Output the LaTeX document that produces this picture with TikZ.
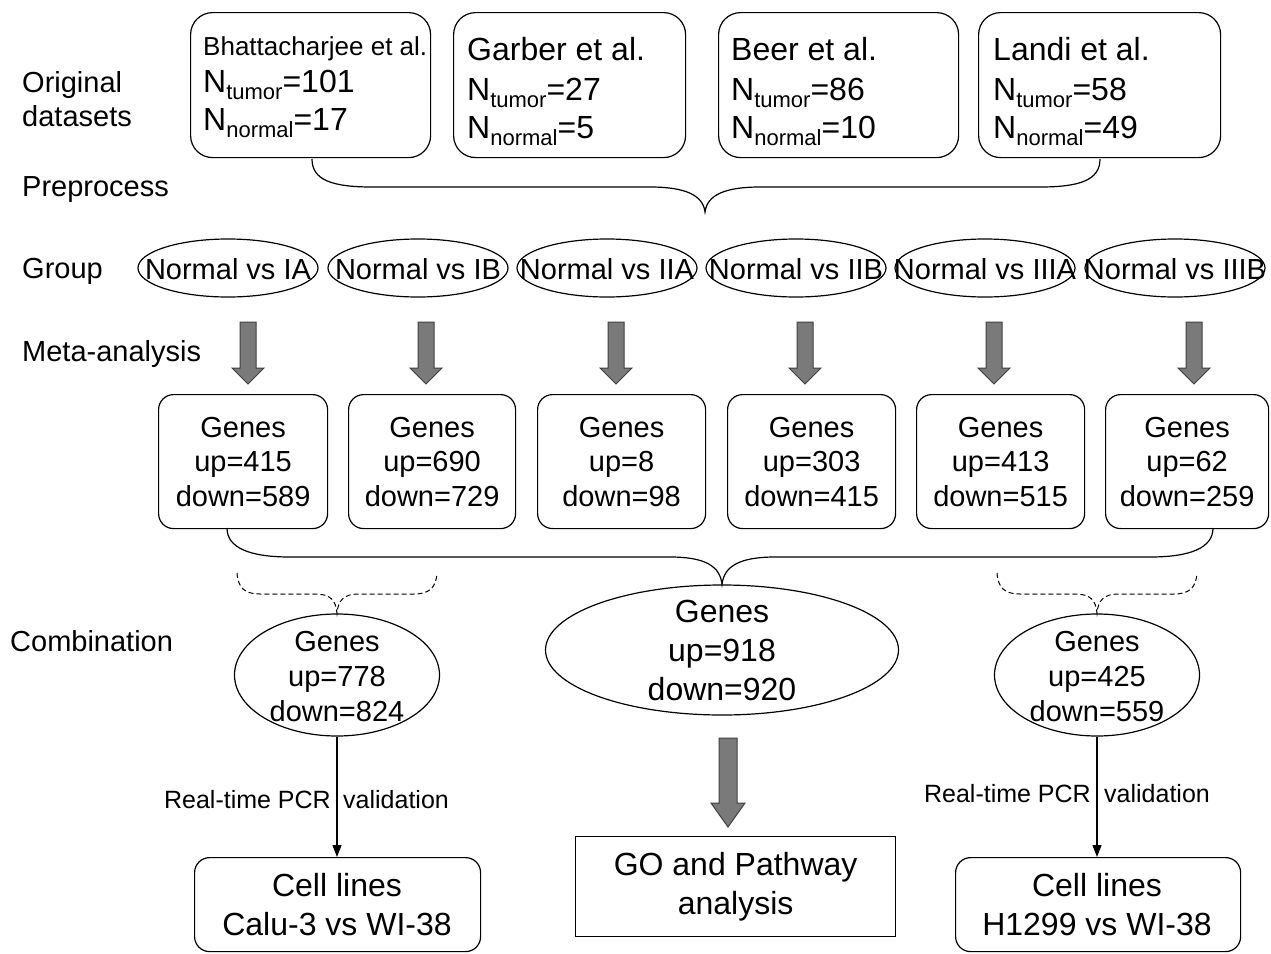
\documentclass[tikz,border=0pt]{standalone}
\usepackage{fontspec}
\setmainfont{Liberation Sans}
\usetikzlibrary{shapes.geometric,arrows.meta,calc}
\newcommand\dsub[1]{\raisebox{-7pt}{\fontsize{22}{22}\selectfont #1}}
\newcommand\fatarr[6]{% x, ytop, ybase, ytip, shaft half, head half
  \draw[fatarrow] (#1-#5,#2) -- (#1+#5,#2) -- (#1+#5,#3) -- (#1+#6,#3) -- (#1,#4) -- (#1-#6,#3) -- (#1-#5,#3) -- cycle;}
\tikzset{
  line/.style={line width=1.2pt, draw=black},
  lbl/.style={anchor=base west, inner sep=0, font=\fontsize{29}{34}\selectfont},
  topbox/.style={line, rounded corners=22pt, anchor=north west, inner sep=0},
  ttl/.style={anchor=base west, inner sep=0, font=\fontsize{32}{38}\selectfont},
  grp/.style={line, ellipse, minimum width=180pt, minimum height=58pt, inner sep=0},
  grptext/.style={inner sep=0, font=\fontsize{29}{34}\selectfont},
  genebox/.style={line, rounded corners=15pt, anchor=north west, inner sep=0, minimum height=134pt},
  genetext/.style={inner sep=0, align=center, font=\fontsize{29}{34.5}\selectfont},
  combell/.style={line, ellipse, inner sep=0},
  bigtext/.style={inner sep=0, align=center, font=\fontsize{32}{39}\selectfont},
  fatarrow/.style={line width=1pt, draw=black!75, fill=black!52},
  brace/.style={line},
  dbrace/.style={line width=1pt, dashed, dash pattern=on 5pt off 3pt},
  thin/.style={line width=1.2pt, -{Triangle[length=12pt,width=9pt]}},
  vlab/.style={inner sep=0, font=\fontsize{25}{30}\selectfont},
}
\begin{document}
\begin{tikzpicture}[x=1pt,y=-1pt]
\useasboundingbox (0,0) rectangle (1271,953);
\fill[white] (0,0) rectangle (1271,953);

% left labels
\node[lbl] (lOrig) at (22,92) {Original};
\node[lbl] (lData) at (22,126) {datasets};
\node[lbl] (lPre) at (22,196) {Preprocess};
\node[lbl] (lGrp) at (22,278) {Group};
\node[lbl] (lMeta) at (22,361) {Meta-analysis};
\node[lbl] (lComb) at (10,651) {Combination};

% top dataset boxes
\node[topbox, minimum width=240pt, minimum height=145pt] (d1) at (190,12) {};
\node[topbox, minimum width=232pt, minimum height=145pt] (d2) at (453,12) {};
\node[topbox, minimum width=240pt, minimum height=145pt] (d3) at (718,12) {};
\node[topbox, minimum width=242pt, minimum height=145pt] (d4) at (978,12) {};

\node[anchor=base west, inner sep=0, font=\fontsize{26}{31}\selectfont] (d1a) at (203,55) {Bhattacharjee et al.};
\node[ttl] (d1b) at (203,92) {N\dsub{tumor}=101};
\node[ttl] (d1c) at (203,130) {N\dsub{normal}=17};

\node[ttl] (d2a) at (467,60) {Garber et al.};
\node[ttl] (d2b) at (467,100) {N\dsub{tumor}=27};
\node[ttl] (d2c) at (467,138) {N\dsub{normal}=5};

\node[ttl] (d3a) at (731,60) {Beer et al.};
\node[ttl] (d3b) at (731,100) {N\dsub{tumor}=86};
\node[ttl] (d3c) at (731,138) {N\dsub{normal}=10};

\node[ttl] (d4a) at (993,60) {Landi et al.};
\node[ttl] (d4b) at (993,100) {N\dsub{tumor}=58};
\node[ttl] (d4c) at (993,138) {N\dsub{normal}=49};

% top brace
\coordinate (tbL) at (312,159);
\coordinate (tbR) at (1100,159);
\coordinate (tbT) at (705,212);
\draw[brace] (tbL) .. controls (312,180) and (332,187) .. (372,187) -- (650,187)
  .. controls (685,187) and (703,195) .. (tbT)
  .. controls (707,195) and (725,187) .. (760,187) -- (1040,187)
  .. controls (1080,187) and (1100,180) .. (tbR);

% group ellipses
\foreach \i/\x/\t in {1/228/IA, 2/418/IB, 3/607/IIA, 4/796/IIB, 5/985/IIIA, 6/1175/IIIB}{
  \node[grp] (g\i) at (\x,268) {};
  \node[grptext] (gt\i) at (\x,269) {Normal vs \t};
}

% fat arrows
\foreach \x in {248,426,616,805,994,1194}{
  \fatarr{\x}{322}{368}{384}{8}{16}
}

% gene boxes
\node[genebox, minimum width=169pt] (r1) at (158,394) {};
\node[genebox, minimum width=167pt] (r2) at (348,394) {};
\node[genebox, minimum width=168pt] (r3) at (537,394) {};
\node[genebox, minimum width=168pt] (r4) at (727,394) {};
\node[genebox, minimum width=168pt] (r5) at (916,394) {};
\node[genebox, minimum width=163pt] (r6) at (1105,394) {};
\node[genetext] (rt1) at (r1.center) {Genes\\up=415\\down=589};
\node[genetext] (rt2) at (r2.center) {Genes\\up=690\\down=729};
\node[genetext] (rt3) at (r3.center) {Genes\\up=8\\down=98};
\node[genetext] (rt4) at (r4.center) {Genes\\up=303\\down=415};
\node[genetext] (rt5) at (r5.center) {Genes\\up=413\\down=515};
\node[genetext] (rt6) at (r6.center) {Genes\\up=62\\down=259};

% combination ellipses
\node[combell, minimum width=353pt, minimum height=130pt] (cc) at (722,650) {};
\node[bigtext] (cct) at (722,650) {Genes\\up=918\\down=920};
\node[combell, minimum width=205pt, minimum height=122pt] (lc) at (337,675) {};
\node[genetext, font=\fontsize{29}{35}\selectfont] (lct) at (337,677) {Genes\\up=778\\down=824};
\node[combell, minimum width=205pt, minimum height=122pt] (rc) at (1097,675) {};
\node[genetext, font=\fontsize{29}{35}\selectfont] (rct) at (1097,677) {Genes\\up=425\\down=559};

% bottom brace
\coordinate (bbL) at (227,528);
\coordinate (bbR) at (1213,528);
\draw[brace] (bbL) .. controls (227,548) and (250,557) .. (290,557) -- (670,557)
  .. controls (705,557) and (720,566) .. (cc.north)
  .. controls (724,566) and (740,557) .. (775,557) -- (1150,557)
  .. controls (1190,557) and (1213,548) .. (bbR);

% dashed braces
\draw[dbrace] (237,573) .. controls (238,588) and (245,594) .. (260,594) -- (315,594)
  .. controls (330,594) and (336,600) .. (lc.north)
  .. controls (338,600) and (344,594) .. (359,594) -- (414,594)
  .. controls (429,594) and (436,588) .. (437,573);
\draw[dbrace] (997,573) .. controls (998,588) and (1005,594) .. (1020,594) -- (1075,594)
  .. controls (1090,594) and (1096,600) .. (rc.north)
  .. controls (1098,600) and (1104,594) .. (1119,594) -- (1174,594)
  .. controls (1189,594) and (1196,588) .. (1197,573);

% bottom boxes
\node[line, rounded corners=15pt, minimum width=286pt, minimum height=94pt, anchor=north west, inner sep=0] (cl1) at (194,857) {};
\node[bigtext] (cl1t) at (337,905) {Cell lines\\Calu-3 vs WI-38};
\node[line, rounded corners=15pt, minimum width=285pt, minimum height=94pt, anchor=north west, inner sep=0] (cl2) at (955,857) {};
\node[bigtext] (cl2t) at (1097,905) {Cell lines\\H1299 vs WI-38};
\node[line, minimum width=320pt, minimum height=100pt, anchor=north west, inner sep=0] (go) at (575,836) {};
\node[bigtext] (got) at (go.center) {GO and Pathway\\analysis};

% big fat arrow
\fatarr{728}{738}{803}{827}{9}{17}

% thin arrows
\draw[thin] (lc.south) -- (cl1.north -| lc.south);
\draw[thin] (rc.south) -- (cl2.north -| rc.south);
\node[vlab, anchor=base east] (v1a) at (331,808) {Real-time PCR};
\node[vlab, anchor=base west] (v1b) at (343,808) {validation};
\node[vlab, anchor=base east] (v2a) at (1091,802) {Real-time PCR};
\node[vlab, anchor=base west] (v2b) at (1104,802) {validation};
\end{tikzpicture}
\end{document}
